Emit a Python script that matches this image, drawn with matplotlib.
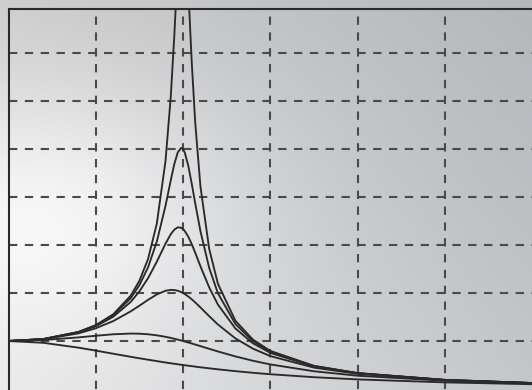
import matplotlib
matplotlib.use("Agg")
import matplotlib.pyplot as plt
import numpy as np

# frequency ratio (omega / omega_0) read along the x axis
omega = [0, 0.2, 0.4, 0.5, 0.6, 0.7, 0.75, 0.8, 0.85, 0.9, 0.93, 0.95, 0.97, 0.99,
         1.0, 1.01, 1.03, 1.05, 1.07, 1.1, 1.15, 1.2, 1.3, 1.4, 1.5, 1.75, 2.0, 2.5, 3.0]

# amplitude ratio for each curve (damping 0.05, 0.1, 0.15, 0.25, 0.5, 1)
amp_d005 = [1.0, 1.041, 1.189, 1.330, 1.556, 1.943, 2.253, 2.712, 3.446, 4.757, 6.097, 7.346, 8.804, 9.903,
            10.0, 9.711, 8.357, 6.815, 5.552, 4.218, 2.921, 2.193, 1.424, 1.031, 0.794, 0.483, 0.333, 0.190, 0.125]
amp_d010 = [1.0, 1.041, 1.185, 1.322, 1.536, 1.891, 2.162, 2.538, 3.073, 3.821, 4.350, 4.683, 4.931, 5.025,
            5.0, 4.926, 4.655, 4.279, 3.869, 3.288, 2.524, 1.995, 1.356, 1.0, 0.778, 0.478, 0.330, 0.190, 0.125]
amp_d015 = [1.0, 1.040, 1.179, 1.307, 1.504, 1.813, 2.033, 2.311, 2.653, 3.029, 3.226, 3.320, 3.368, 3.359,
            3.333, 3.293, 3.175, 3.019, 2.839, 2.557, 2.117, 1.759, 1.262, 0.954, 0.753, 0.470, 0.327, 0.189, 0.124]
amp_d025 = [1.0, 1.036, 1.158, 1.265, 1.415, 1.617, 1.735, 1.858, 1.970, 2.047, 2.065, 2.062, 2.047, 2.019,
            2.0, 1.979, 1.928, 1.869, 1.804, 1.699, 1.517, 1.344, 1.055, 0.842, 0.686, 0.446, 0.316, 0.185, 0.123]
amp_d050 = [1.0, 1.020, 1.075, 1.109, 1.140, 1.155, 1.152, 1.140, 1.118, 1.087, 1.064, 1.047, 1.029, 1.010,
            1.0, 0.990, 0.969, 0.948, 0.926, 0.893, 0.837, 0.782, 0.679, 0.589, 0.512, 0.370, 0.277, 0.172, 0.117]
amp_d100 = [1.0, 0.962, 0.862, 0.800, 0.735, 0.671, 0.640, 0.610, 0.581, 0.552, 0.536, 0.526, 0.515, 0.505,
            0.5, 0.495, 0.485, 0.476, 0.466, 0.452, 0.431, 0.410, 0.372, 0.338, 0.308, 0.246, 0.200, 0.138, 0.100]

curves = [amp_d005, amp_d010, amp_d015, amp_d025, amp_d050, amp_d100]

fig = plt.figure(figsize=(5.32, 3.90), dpi=100)

# photographed paper: uneven grey lighting, bright on the left
bg = fig.add_axes([0, 0, 1, 1])
u, v = np.meshgrid(np.linspace(0, 1, 266), np.linspace(0, 1, 195))
shade = (0.80 * (1 - u) * (1 - v) + 0.72 * u * (1 - v) + 0.90 * (1 - u) * v + 0.78 * u * v)
shade = shade + 0.12 * np.exp(-((u - 0.1) ** 2 + (v - 0.55) ** 2) / 0.12)
rgb = np.dstack([shade - 0.01 * u, shade, shade + 0.015 * u])
bg.imshow(np.clip(rgb, 0, 1), aspect="auto", extent=[0, 1, 0, 1], origin="upper")
bg.set_axis_off()

ax = fig.add_axes([8.5 / 532, 1 / 390, 523.5 / 532, 380 / 390])
ax.patch.set_alpha(0)
for c in curves:
    ax.plot(omega, c, color="#2a2a2a", lw=1.35)

ax.set_xlim(0, 3)
ax.set_ylim(0, 380 / 48)
ax.set_xticks([0.5, 1.0, 1.5, 2.0, 2.5])
ax.set_yticks([1, 2, 3, 4, 5, 6, 7])
ax.grid(True, color="#4a4a4a", lw=1.5, linestyle=(0, (4.0, 3.6)))
ax.tick_params(length=0, labelbottom=False, labelleft=False)
for s in ["right", "bottom"]:
    ax.spines[s].set_visible(False)
for s in ["left", "top"]:
    ax.spines[s].set_color("#2a2a2a")
    ax.spines[s].set_linewidth(1.5)

fig.savefig("out.png", dpi=100)
